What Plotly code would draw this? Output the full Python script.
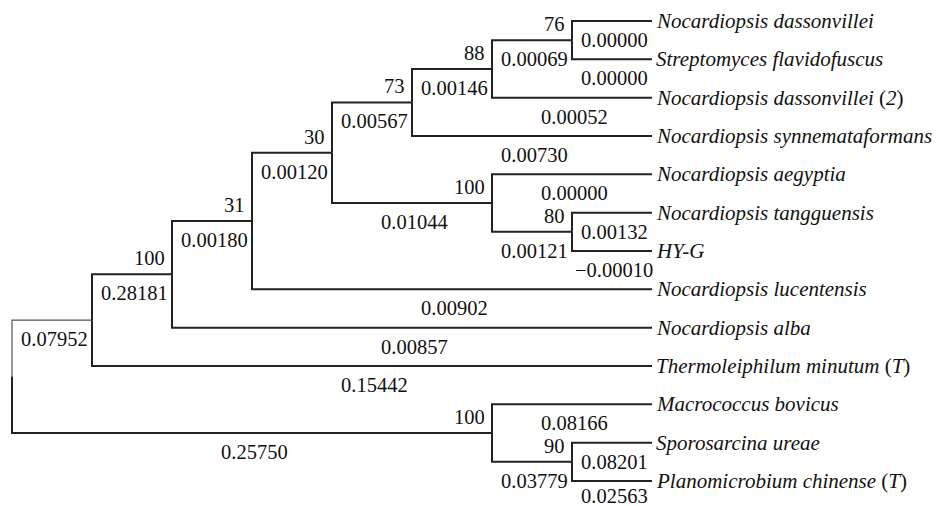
import plotly.graph_objects as go

# ---------------- data ----------------
taxa = [
    "<i>Nocardiopsis dassonvillei</i>",
    "<i>Streptomyces flavidofuscus</i>",
    "<i>Nocardiopsis dassonvillei</i> (<i>2</i>)",
    "<i>Nocardiopsis synnemataformans</i>",
    "<i>Nocardiopsis aegyptia</i>",
    "<i>Nocardiopsis tangguensis</i>",
    "<i>HY-G</i>",
    "<i>Nocardiopsis lucentensis</i>",
    "<i>Nocardiopsis alba</i>",
    "<i>Thermoleiphilum minutum</i> (<i>T</i>)",
    "<i>Macrococcus bovicus</i>",
    "<i>Sporosarcina ureae</i>",
    "<i>Planomicrobium chinense</i> (<i>T</i>)",
]
tip_lengths = [0.00000, 0.00000, 0.00052, 0.00730, 0.00000, 0.00132, -0.00010,
               0.00902, 0.00857, 0.15442, 0.08166, 0.08201, 0.02563]

node_ids = ["H", "G", "E", "I", "F", "D", "C", "B", "A", "N", "M", "root"]
node_children = [[0, 1], ["H", 2], ["G", 3], [5, 6], [4, "I"], ["E", "F"],
                 ["D", 7], ["C", 8], ["B", 9], [11, 12], [10, "N"], ["A", "M"]]
node_bootstrap = [76, 88, 73, 80, 100, 30, 31, 100, None, 90, 100, None]
node_lengths = [0.00069, 0.00146, 0.00567, 0.00121, 0.01044, 0.00120, 0.00180,
                0.28181, 0.07952, 0.03779, 0.25750, None]

# ---------------- layout of the tree (right-aligned cladogram) ----------------
children = dict(zip(node_ids, node_children))
boot = dict(zip(node_ids, node_bootstrap))
nlen = dict(zip(node_ids, node_lengths))

height = {}
def get_h(n):
    if isinstance(n, int):
        return 0
    height[n] = max(get_h(c) for c in children[n]) + 1
    return height[n]
get_h("root")
TIPX = height["root"]
depth = {n: TIPX - h for n, h in height.items()}

ypos = {}
def get_y(n):
    if isinstance(n, int):
        return float(n)
    ys = [get_y(c) for c in children[n]]
    ypos[n] = (min(ys) + max(ys)) / 2
    return ypos[n]
get_y("root")

def px(n):
    return TIPX if isinstance(n, int) else depth[n]

def py(n):
    return float(n) if isinstance(n, int) else ypos[n]

def fmt(v):
    return f"{v:.5f}".replace("-", "\u2212")

LAST_TIP = len(taxa) - 1
thick_x, thick_y, thin_x, thin_y = [], [], [], []
annotations = []
NUMFONT = dict(family="Liberation Serif, Times New Roman, serif", size=20.5, color="#111")
TAXFONT = dict(family="Liberation Serif, Times New Roman, serif", size=21, color="#111")

for n in node_ids:
    x0 = depth[n]
    for c in children[n]:
        cx, cy = px(c), py(c)
        segx = [x0, x0, cx, None]
        segy = [ypos[n], cy, cy, None]
        if n == "root" and c == "A":
            thin_x += segx; thin_y += segy
        else:
            thick_x += segx; thick_y += segy
        # branch length label (kept inside the page for the last row)
        L = tip_lengths[c] if isinstance(c, int) else nlen[c]
        ysh = -15 if c == LAST_TIP else -19
        annotations.append(dict(x=(x0 + cx) / 2, y=cy, text=fmt(L), showarrow=False,
                                xanchor="center", yanchor="middle", xshift=2, yshift=ysh,
                                font=NUMFONT))
        # bootstrap label
        if isinstance(c, str) and boot[c] is not None:
            annotations.append(dict(x=cx, y=cy, text=str(boot[c]), showarrow=False,
                                    xanchor="right", yanchor="middle", xshift=-5, yshift=16,
                                    font=NUMFONT))

for i, name in enumerate(taxa):
    annotations.append(dict(x=TIPX, y=i, text=name, showarrow=False, xanchor="left",
                            yanchor="middle", xshift=2, font=TAXFONT))

fig = go.Figure()
fig.add_trace(go.Scatter(x=thin_x, y=thin_y, mode="lines",
                         line=dict(color="#555", width=1.2), hoverinfo="skip"))
fig.add_trace(go.Scatter(x=thick_x, y=thick_y, mode="lines",
                         line=dict(color="#222", width=2), hoverinfo="skip"))

W, H = 939, 506
x_left, x_step = 12, 80
y_top, y_step = 21, 38.33
fig.update_layout(
    width=W, height=H, margin=dict(l=0, r=0, t=0, b=0),
    paper_bgcolor="white", plot_bgcolor="white", showlegend=False,
    xaxis=dict(visible=False, range=[-x_left / x_step, (W - x_left) / x_step], fixedrange=True),
    yaxis=dict(visible=False, range=[(H - y_top) / y_step, -y_top / y_step], fixedrange=True),
    annotations=annotations,
)
fig.write_html("out.html", config={"displayModeBar": False},
               post_script="document.body.style.margin='0';document.body.style.padding='0';")
